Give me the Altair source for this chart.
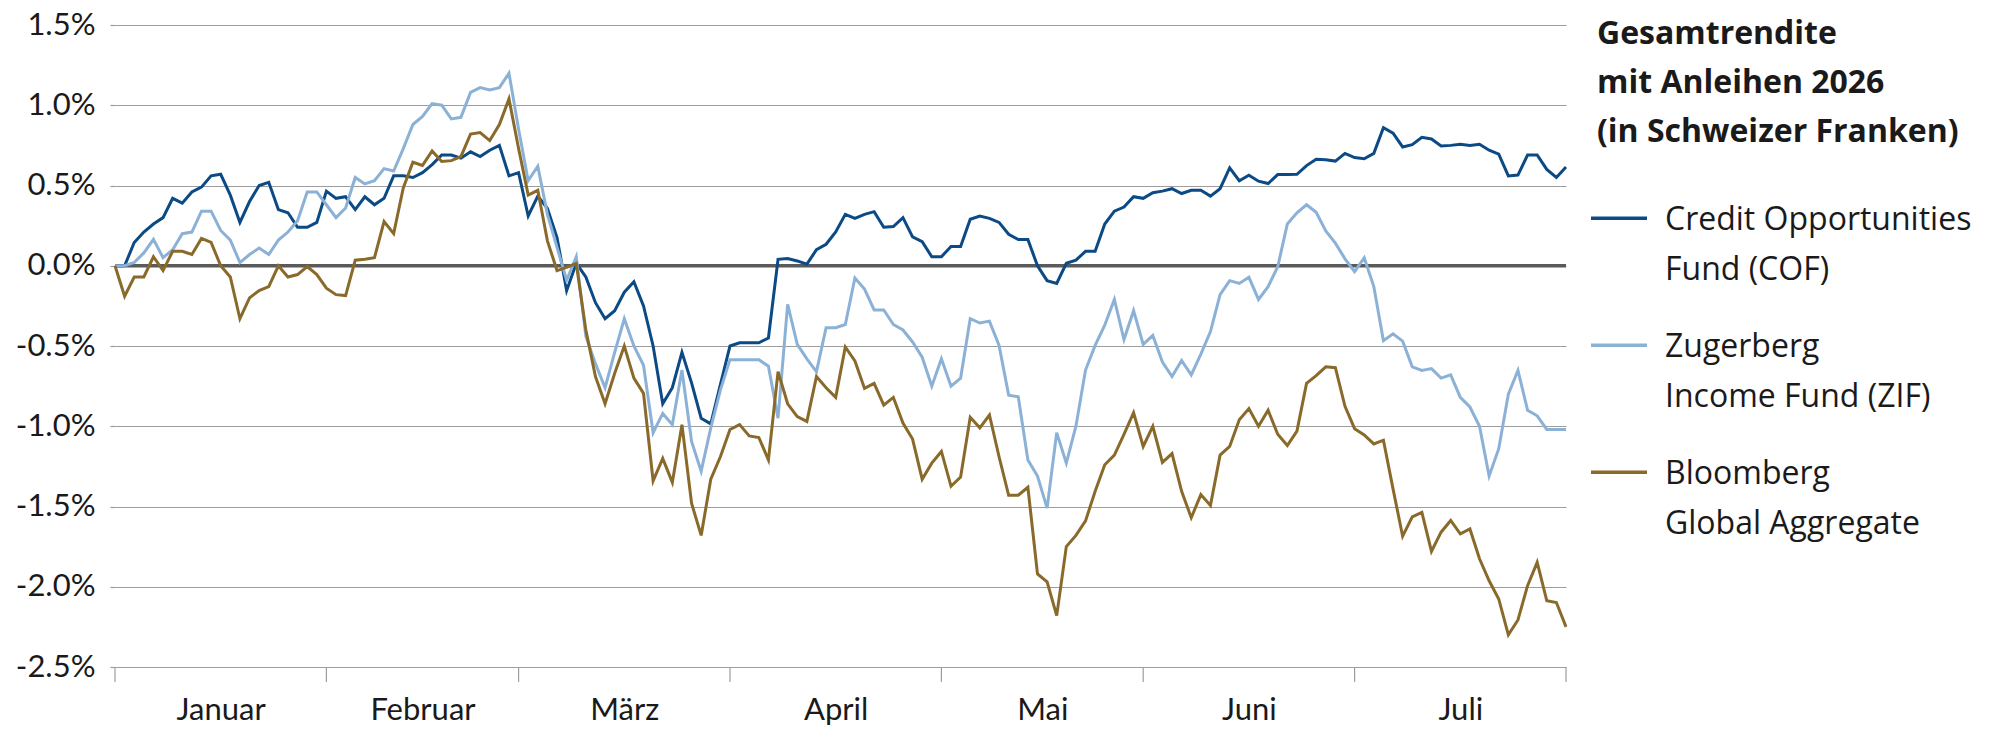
import altair as alt
import pandas as pd

# ---------------- data ----------------
series_names = [
    "Credit Opportunities\nFund (COF)",
    "Zugerberg\nIncome Fund (ZIF)",
    "Bloomberg\nGlobal Aggregate",
]
series_colors = ["#0b4a85", "#8cb1d6", "#8a6a2b"]

cof = [0.0, 0.0, 0.145, 0.21, 0.26, 0.30, 0.42, 0.39, 0.46, 0.49,
       0.56, 0.57, 0.44, 0.27, 0.40, 0.50, 0.52, 0.35, 0.33, 0.24,
       0.24, 0.27, 0.465, 0.42, 0.43, 0.35, 0.43, 0.38, 0.42, 0.56,
       0.56, 0.55, 0.58, 0.63, 0.69, 0.69, 0.67, 0.71, 0.68, 0.72,
       0.75, 0.56, 0.58, 0.31, 0.434, 0.357, 0.176, -0.155, 0.015, -0.07,
       -0.23, -0.33, -0.28, -0.165, -0.10, -0.25, -0.50, -0.86, -0.76, -0.54,
       -0.73, -0.95, -0.985, -0.74, -0.50, -0.48, -0.48, -0.48, -0.45, 0.04,
       0.045, 0.03, 0.01, 0.10, 0.134, 0.21, 0.32, 0.295, 0.32, 0.337,
       0.24, 0.244, 0.30, 0.18, 0.15, 0.056, 0.056, 0.12, 0.12, 0.29,
       0.31, 0.295, 0.27, 0.196, 0.163, 0.163, 0.0, -0.093, -0.11, 0.015,
       0.035, 0.09, 0.09, 0.26, 0.34, 0.366, 0.43, 0.42, 0.455, 0.465,
       0.48, 0.45, 0.47, 0.47, 0.434, 0.48, 0.61, 0.53, 0.564, 0.527,
       0.512, 0.568, 0.568, 0.57, 0.624, 0.663, 0.66, 0.652, 0.70, 0.674,
       0.667, 0.70, 0.86, 0.826, 0.74, 0.754, 0.80, 0.79, 0.746, 0.75,
       0.757, 0.75, 0.757, 0.72, 0.696, 0.56, 0.565, 0.69, 0.69, 0.60,
       0.55, 0.615]

zif = [0.0, 0.0, 0.02, 0.08, 0.165, 0.05, 0.10, 0.20, 0.21, 0.34,
       0.34, 0.22, 0.16, 0.02, 0.07, 0.11, 0.07, 0.16, 0.21, 0.28,
       0.46, 0.46, 0.38, 0.30, 0.36, 0.55, 0.51, 0.53, 0.605, 0.59,
       0.73, 0.88, 0.93, 1.01, 1.00, 0.915, 0.925, 1.08, 1.11, 1.095,
       1.11, 1.20, 0.85, 0.53, 0.62, 0.32, 0.114, -0.09, 0.056, -0.44,
       -0.61, -0.76, -0.54, -0.33, -0.50, -0.62, -1.04, -0.92, -0.99, -0.65,
       -1.095, -1.28, -1.01, -0.775, -0.585, -0.585, -0.585, -0.585, -0.626, -0.95,
       -0.24, -0.49, -0.58, -0.66, -0.386, -0.386, -0.366, -0.076, -0.145, -0.275,
       -0.275, -0.366, -0.40, -0.475, -0.57, -0.75, -0.58, -0.75, -0.70, -0.33,
       -0.357, -0.345, -0.496, -0.806, -0.816, -1.21, -1.31, -1.51, -1.04, -1.23,
       -1.00, -0.65, -0.496, -0.37, -0.21, -0.46, -0.28, -0.49, -0.434, -0.60,
       -0.69, -0.59, -0.68, -0.55, -0.41, -0.18, -0.093, -0.11, -0.072, -0.21,
       -0.13, -0.006, 0.26, 0.33, 0.38, 0.333, 0.217, 0.141, 0.043, -0.037,
       0.05, -0.13, -0.467, -0.424, -0.47, -0.63, -0.652, -0.641, -0.70, -0.68,
       -0.82, -0.88, -1.00, -1.31, -1.14, -0.80, -0.652, -0.90, -0.935, -1.02,
       -1.02, -1.02]

bbg = [0.0, -0.19, -0.07, -0.07, 0.056, -0.03, 0.09, 0.09, 0.07, 0.17,
       0.145, 0.0, -0.07, -0.33, -0.20, -0.155, -0.13, 0.0, -0.07, -0.055,
       -0.005, -0.055, -0.14, -0.18, -0.186, 0.035, 0.04, 0.05, 0.275, 0.20,
       0.485, 0.645, 0.625, 0.715, 0.65, 0.655, 0.68, 0.82, 0.83, 0.78,
       0.88, 1.04, 0.73, 0.44, 0.47, 0.155, -0.03, -0.01, 0.015, -0.40,
       -0.69, -0.86, -0.67, -0.50, -0.70, -0.795, -1.34, -1.20, -1.35, -0.99,
       -1.48, -1.68, -1.33, -1.19, -1.02, -0.99, -1.06, -1.07, -1.21, -0.66,
       -0.86, -0.94, -0.97, -0.69, -0.76, -0.82, -0.506, -0.593, -0.764, -0.733,
       -0.868, -0.82, -0.98, -1.08, -1.33, -1.23, -1.157, -1.374, -1.316, -0.944,
       -1.01, -0.93, -1.19, -1.43, -1.43, -1.38, -1.92, -1.97, -2.18, -1.75,
       -1.68, -1.59, -1.405, -1.24, -1.18, -1.05, -0.915, -1.126, -1.00, -1.225,
       -1.17, -1.405, -1.57, -1.426, -1.494, -1.18, -1.126, -0.96, -0.89, -1.00,
       -0.90, -1.05, -1.12, -1.03, -0.733, -0.685, -0.63, -0.635, -0.876, -1.015,
       -1.054, -1.11, -1.087, -1.39, -1.685, -1.565, -1.537, -1.78, -1.66, -1.587,
       -1.67, -1.64, -1.826, -1.963, -2.076, -2.30, -2.207, -1.993, -1.848, -2.087,
       -2.098, -2.25]

month_names = ["Januar", "Februar", "März", "April", "Mai", "Juni", "Juli"]
month_bounds = [0, 22, 42, 64, 86, 107, 129, 151]
y_ticks = [-2.5, -2.0, -1.5, -1.0, -0.5, 0.0, 0.5, 1.0, 1.5]
legend_title = ["Gesamtrendite", "mit Anleihen 2026", "(in Schweizer Franken)"]

# ---------------- tables ----------------
rows = []
for name, vals in zip(series_names, [cof, zif, bbg]):
    for i, v in enumerate(vals):
        rows.append({"Tag": i, "Rendite": v, "Serie": name})
df = pd.DataFrame(rows)

mids = [(a + b) / 2 for a, b in zip(month_bounds[:-1], month_bounds[1:])]
month_label_expr = (
    "[" + ",".join("'" + m + "'" for m in month_names) + "]"
    + "[indexof([" + ",".join(repr(m) for m in mids) + "], datum.value)]"
)

FONT = "Lato"
LEGEND_FONT = "Open Sans"
GRID = "#9d9d9d"
TEXT = "#1a1a1a"
W, H = 1451, 642

x_scale = alt.Scale(domain=[month_bounds[0], month_bounds[-1]], nice=False, zero=False)
y_scale = alt.Scale(domain=[y_ticks[0], y_ticks[-1]], nice=False, zero=False)

lines = alt.Chart(df).mark_line(strokeWidth=3).encode(
    x=alt.X("Tag:Q", scale=x_scale,
            axis=alt.Axis(values=mids, labelExpr=month_label_expr, ticks=False,
                          domain=False, grid=False, labelPadding=28, title=None)),
    y=alt.Y("Rendite:Q", scale=y_scale,
            axis=alt.Axis(values=y_ticks,
                          labelExpr="(datum.value < 0 ? '-' : '') + format(abs(datum.value), '.1f') + '%'",
                          grid=True, tickSize=5, domain=False, labelPadding=15, title=None)),
    color=alt.Color("Serie:N",
                    scale=alt.Scale(domain=series_names, range=series_colors),
                    legend=alt.Legend(title=legend_title,
                                      labelExpr="split(datum.label, '\\n')")),
)

zero_rule = alt.Chart(pd.DataFrame({"Rendite": [0.0]})).mark_rule(
    color="#5a5a5a", strokeWidth=3.5
).encode(y=alt.Y("Rendite:Q", scale=y_scale))

month_ticks = alt.Chart(pd.DataFrame({"Tag": month_bounds})).mark_rule(
    color=GRID, strokeWidth=1.2
).encode(
    x=alt.X("Tag:Q", scale=x_scale),
    y=alt.value(H),
    y2=alt.value(H + 15),
)

chart = alt.layer(month_ticks, zero_rule, lines).properties(
    width=W,
    height=H,
    autosize=alt.AutoSizeParams(type="none"),
    padding={"left": 107, "top": 17, "right": 426, "bottom": 78},
).configure(
    style={"guide-label": {"lineHeight": 50}}
).configure_view(
    stroke=None
).configure_axis(
    labelFont=FONT, labelFontSize=31, labelColor=TEXT, labelLineHeight=31,
    gridColor=GRID, gridWidth=1.2, tickColor=GRID, tickWidth=1.2,
).configure_legend(
    orient="none", legendX=W + 31, legendY=-6, padding=0,
    titleFont=LEGEND_FONT, titleFontSize=32, titleFontWeight="bold", titleColor=TEXT,
    titleLineHeight=49, titleLimit=700, titlePadding=40,
    labelFont=LEGEND_FONT, labelFontSize=32, labelColor=TEXT, labelLimit=700,
    labelOffset=30, labelBaseline="top",
    symbolType="M-2,0.95L2,0.95", symbolSize=784, symbolStrokeWidth=3.5,
    symbolOffset=6, rowPadding=30,
)

chart.save("out.html", embed_options={"renderer": "svg", "actions": False})
